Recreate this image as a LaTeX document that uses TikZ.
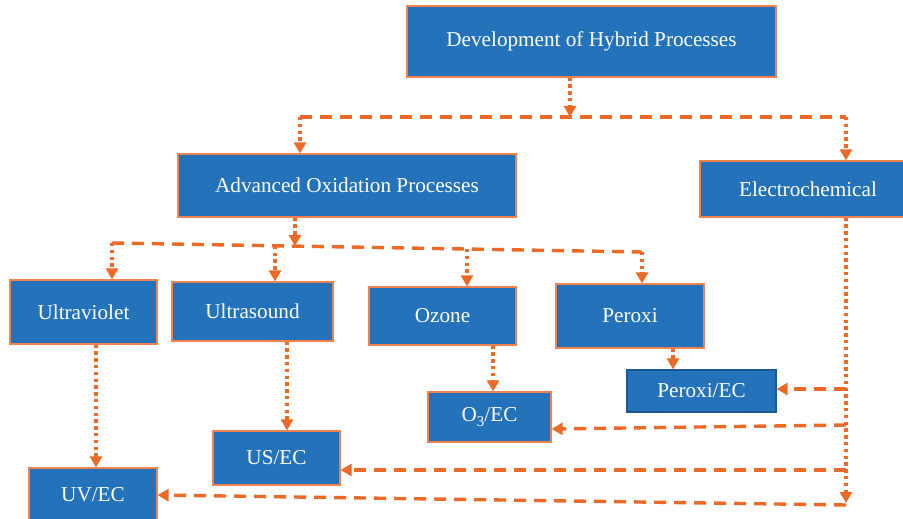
\documentclass[tikz,border=0pt]{standalone}
\usepackage{fontspec}
\setmainfont{Liberation Serif}
\usetikzlibrary{arrows.meta,calc}
\definecolor{boxblue}{RGB}{36,115,186}
\definecolor{lineorange}{RGB}{236,106,38}
\definecolor{edgeorange}{RGB}{240,130,80}
\definecolor{edgeblue}{RGB}{28,88,150}
\tikzset{
  box/.style={draw=edgeorange, line width=1.2pt, fill=boxblue, text=white,
    inner sep=0pt, font=\fontsize{21.2}{25}\selectfont},
  dashline/.style={draw=lineorange, line width=3.4pt, dash pattern=on 12pt off 8pt},
  dotline/.style={draw=lineorange, line width=3.4pt, dash pattern=on 3.4pt off 3.4pt},
  arr/.style={-{Triangle[width=12pt,length=11pt]}, lineorange},
}
\begin{document}
\begin{tikzpicture}[x=1pt,y=-1pt]
\useasboundingbox (0,0) rectangle (903,519);
\clip (0,0) rectangle (903,519);
% boxes
\node[box, minimum width=369pt, minimum height=71pt] (dev) at (591.5,41.5) {Development of Hybrid Processes};
\node[box, minimum width=338pt, minimum height=63pt] (aop) at (347,185.5) {Advanced Oxidation Processes};
\node[box, minimum width=216pt, minimum height=56pt] (ec) at (808,189) {Electrochemical};
\node[box, minimum width=147pt, minimum height=64pt] (uv) at (83.5,312) {Ultraviolet};
\node[box, minimum width=161pt, minimum height=59pt] (us) at (252.5,311.5) {Ultrasound};
\node[box, minimum width=147pt, minimum height=58pt] (oz) at (442.5,316) {Ozone};
\node[box, minimum width=148pt, minimum height=64pt] (per) at (630,316) {Peroxi};
\node[box, draw=edgeblue, minimum width=149pt, minimum height=42pt] (pec) at (701.5,391) {Peroxi/EC};
\node[box, minimum width=123pt, minimum height=50pt] (oec) at (489.5,417) {O\raisebox{-0.45ex}{\fontsize{15}{15}\selectfont 3}/EC};
\node[box, minimum width=127pt, minimum height=54pt] (usec) at (276.5,458) {US/EC};
\node[box, minimum width=128pt, minimum height=54pt] (uvec) at (93,495) {UV/EC};
% top level split
\coordinate (j1) at (570,117);
\coordinate (jl) at (300,117);
\coordinate (jr) at (846,117);
\draw[dashline] (jl) -- (jr);
\draw[dotline,arr] (dev.south -| j1) -- (j1);
\draw[dotline,arr] (jl) -- (jl |- aop.north);
\draw[dotline,arr] (jr) -- (jr |- ec.north);
% AOP split
\coordinate (bl) at (112,243);
\coordinate (br) at (642,252);
\coordinate (bm) at (295,246);
\coordinate (b2) at (275,245.8);
\coordinate (b3) at (467,249);
\draw[dashline] (bl) -- (br);
\draw[dotline,arr] (aop.south -| bm) -- (bm);
\draw[dotline,arr] (bl) -- (bl |- uv.north);
\draw[dotline,arr] (b2) -- (b2 |- us.north);
\draw[dotline,arr] (b3) -- (b3 |- oz.north);
\draw[dotline,arr] (br) -- (br |- per.north);
% drops to hybrids
\coordinate (x1) at (96,0);
\coordinate (x2) at (287,0);
\coordinate (x3) at (493,0);
\coordinate (x4) at (673,0);
\draw[dotline,arr] (uv.south -| x1) -- (uvec.north -| x1);
\draw[dotline,arr] (us.south -| x2) -- (usec.north -| x2);
\draw[dotline,arr] (oz.south -| x3) -- (oec.north -| x3);
\draw[dotline,arr] (per.south -| x4) -- (pec.north -| x4);
% electrochemical feed
\coordinate (ev) at (846,503);
\draw[dotline,arr] (ec.south -| ev) -- (ev);
\coordinate (h1) at (846,389);
\coordinate (h2) at (846,425);
\coordinate (h3) at (846,470);
\coordinate (h4) at (846,505);
\coordinate (y2) at (0,429);
\coordinate (y4) at (0,495);
\draw[dashline,arr] (h1) -- (pec.east |- h1);
\draw[dashline,arr] (h2) -- (oec.east |- y2);
\draw[dashline,arr] (h3) -- (usec.east |- h3);
\draw[dashline,arr] (h4) -- (uvec.east |- y4);
\end{tikzpicture}
\end{document}
